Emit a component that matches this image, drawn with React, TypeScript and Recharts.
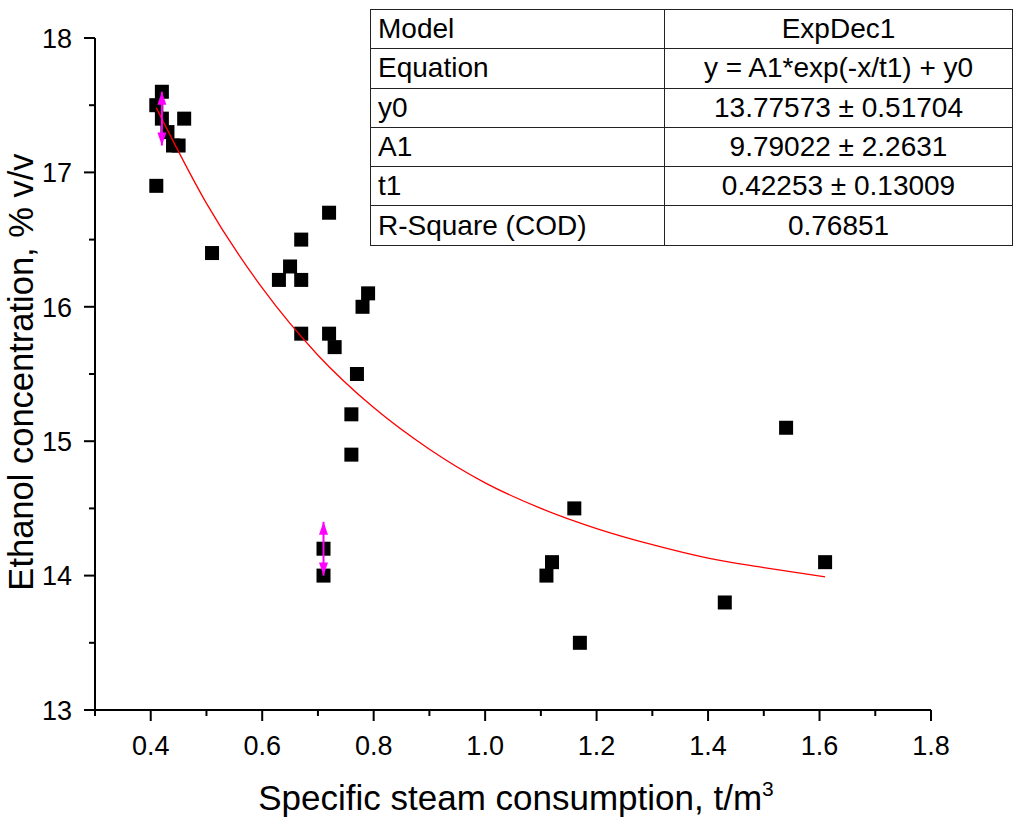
import { Scatter, ScatterChart, XAxis, YAxis, Label } from "recharts";

// measured points: specific steam consumption (t/m3) vs ethanol concentration (% v/v)
const steamX = [
  0.41, 0.42, 0.42, 0.43, 0.44, 0.45, 0.46, 0.41, 0.51, 0.63, 0.65, 0.67, 0.67, 0.72, 0.78, 0.79,
  0.67, 0.72, 0.73, 0.77, 0.76, 0.76, 0.71, 0.71, 1.16, 1.11, 1.12, 1.17, 1.43, 1.54, 1.61,
];
const ethanolY = [
  17.5, 17.6, 17.4, 17.3, 17.2, 17.2, 17.4, 16.9, 16.4, 16.2, 16.3, 16.2, 16.5, 16.7, 16.0, 16.1,
  15.8, 15.8, 15.7, 15.5, 15.2, 14.9, 14.2, 14.0, 14.5, 14.0, 14.1, 13.5, 13.8, 15.1, 14.1,
];

// ExpDec1 fit curve
const fitX = [0.41, 0.5, 0.6, 0.7, 0.8, 0.9, 1.0, 1.1, 1.2, 1.3, 1.4, 1.5, 1.61];
const fitY = [17.48, 16.77, 16.14, 15.64, 15.25, 14.94, 14.69, 14.5, 14.35, 14.23, 14.13, 14.06, 13.99];

// magenta double arrows
const arrowX = [0.42, 0.71];
const arrowTop = [17.6, 14.4];
const arrowBottom = [17.2, 14.0];

const xTicks = [0.3, 0.4, 0.5, 0.6, 0.7, 0.8, 0.9, 1.0, 1.1, 1.2, 1.3, 1.4, 1.5, 1.6, 1.7, 1.8];
const yTicks = [13, 13.5, 14, 14.5, 15, 15.5, 16, 16.5, 17, 17.5, 18];

const tableRows = [
  ["Model", "ExpDec1"],
  ["Equation", "y = A1*exp(-x/t1) + y0"],
  ["y0", "13.77573 ± 0.51704"],
  ["A1", "9.79022 ± 2.2631"],
  ["t1", "0.42253 ± 0.13009"],
  ["R-Square (COD)", "0.76851"],
];

const FONT = "'Liberation Sans', Arial, sans-serif";

const points = steamX.map((x, i) => ({ x, y: ethanolY[i] }));
const fit = fitX.map((x, i) => ({ x, y: fitY[i] }));
const arrows = arrowX.map((x, i) => [
  { x, y: arrowTop[i], dir: -1 },
  { x, y: arrowBottom[i], dir: 1 },
]);

const isMajorX = (v: number) => Math.round(v * 10) % 2 === 0;
const isMajorY = (v: number) => Number.isInteger(v);

function XTick({ x, y, payload }: any) {
  const major = isMajorX(payload.value);
  return (
    <g>
      <line x1={x} x2={x} y1={y} y2={y + (major ? 11 : 6)} stroke="#000" strokeWidth={2} />
      {major && payload.value > 0.35 && (
        <text x={x} y={y + 45} textAnchor="middle" fontSize={27} fontFamily={FONT} fill="#000">
          {payload.value.toFixed(1)}
        </text>
      )}
    </g>
  );
}

function YTick({ x, y, payload }: any) {
  const major = isMajorY(payload.value);
  return (
    <g>
      <line x1={x} x2={x - (major ? 11 : 6)} y1={y} y2={y} stroke="#000" strokeWidth={2} />
      {major && (
        <text x={x - 23} y={y} dy="0.36em" textAnchor="end" fontSize={27} fontFamily={FONT} fill="#000">
          {payload.value}
        </text>
      )}
    </g>
  );
}

function Square({ cx, cy }: any) {
  return <rect x={cx - 7} y={cy - 7} width={14} height={14} fill="#000" />;
}

function ArrowHead({ cx, cy, payload }: any) {
  const d = payload.dir;
  return (
    <polygon
      points={`${cx},${cy} ${cx - 4.5},${cy - d * 13} ${cx + 4.5},${cy - d * 13}`}
      fill="#ff00ff"
    />
  );
}

export default function App() {
  return (
    <div style={{ position: "relative", width: 1015, height: 821, background: "#fff" }}>
      <style>{`body{margin:0}`}</style>
      <ScatterChart width={1015} height={821} margin={{ top: 38, right: 84, bottom: 51, left: 35 }}>
        <XAxis
          type="number"
          dataKey="x"
          domain={[0.3, 1.8]}
          ticks={xTicks}
          interval={0}
          height={60}
          tickSize={0}
          tickMargin={0}
          tickLine={false}
          tick={<XTick />}
          axisLine={{ stroke: "#000", strokeWidth: 2 }}
          allowDataOverflow
        >
          <Label
            content={() => (
              <text x={516} y={810} textAnchor="middle" fontSize={35} fontFamily={FONT} fill="#000">
                Specific steam consumption, t/m
                <tspan dy={-14} fontSize={21}>
                  3
                </tspan>
              </text>
            )}
          />
        </XAxis>
        <YAxis
          type="number"
          dataKey="y"
          domain={[13, 18]}
          ticks={yTicks}
          interval={0}
          width={60}
          tickSize={0}
          tickMargin={0}
          tickLine={false}
          tick={<YTick />}
          axisLine={{ stroke: "#000", strokeWidth: 2 }}
          allowDataOverflow
        >
          <Label
            content={() => (
              <text
                x={33}
                y={372}
                transform="rotate(-90 33 372)"
                textAnchor="middle"
                fontSize={34.5}
                fontFamily={FONT}
                fill="#000"
              >
                Ethanol concentration, % v/v
              </text>
            )}
          />
        </YAxis>
        <Scatter data={points} shape={<Square />} isAnimationActive={false} />
        <Scatter
          data={fit}
          line={{ stroke: "#ff0000", strokeWidth: 1.3 }}
          lineJointType="monotoneX"
          shape={() => null}
          isAnimationActive={false}
        />
        {arrows.map((a, i) => (
          <Scatter
            key={i}
            data={a}
            line={{ stroke: "#ff00ff", strokeWidth: 2 }}
            shape={<ArrowHead />}
            isAnimationActive={false}
          />
        ))}
      </ScatterChart>
      <table
        style={{
          position: "absolute",
          left: 370,
          top: 9,
          width: 643,
          height: 236,
          borderCollapse: "collapse",
          fontFamily: FONT,
          fontSize: 28,
          color: "#000",
          background: "#fff",
        }}
      >
        <tbody>
          {tableRows.map(([k, v]) => (
            <tr key={k} style={{ height: 39.3 }}>
              <td style={{ border: "1.5px solid #222", width: 286, padding: "0 0 0 7px", lineHeight: 1 }}>
                {k}
              </td>
              <td style={{ border: "1.5px solid #222", textAlign: "center", padding: 0, lineHeight: 1 }}>{v}</td>
            </tr>
          ))}
        </tbody>
      </table>
    </div>
  );
}
